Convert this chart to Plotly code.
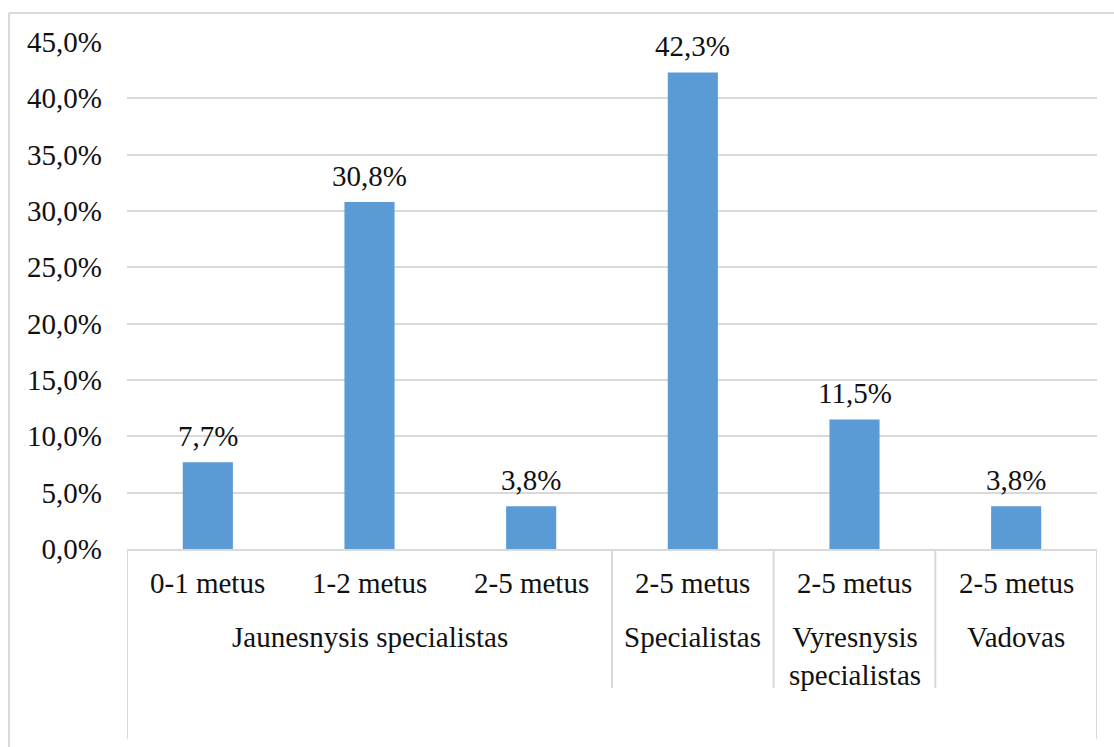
import plotly.graph_objects as go

# Survey shares by position and experience
experience = ["0-1 metus", "1-2 metus", "2-5 metus", "2-5 metus", "2-5 metus", "2-5 metus"]
positions = ["Jaunesnysis specialistas", "Specialistas", "Vyresnysis<br>specialistas", "Vadovas"]
position_sizes = [3, 1, 1, 1]
shares = [0.077, 0.308, 0.038, 0.423, 0.115, 0.038]

W, H = 1114, 747
M_L, M_R, M_T, M_B = 127, 17, 42, 198
PLOT_H = H - M_T - M_B
FONT = "'Times New Roman', 'Liberation Serif', Tinos, serif"
FS = 29
GRID = "#d9d9d9"
INK = "#111"


def py(pixel_y):
    """Convert a page pixel row into paper y coordinates."""
    return (H - M_B - pixel_y) / PLOT_H


def pct(v):
    return f"{v * 100:.1f}%".replace(".", ",")


x_pos = list(range(len(shares)))

fig = go.Figure(
    go.Bar(
        x=x_pos,
        y=shares,
        width=0.31,
        marker=dict(color="#5b9bd5", line=dict(width=0)),
        hovertemplate="%{y:.1%}<extra></extra>",
    )
)

shapes = []
annotations = []

# Value labels above each bar
for i, v in zip(x_pos, shares):
    annotations.append(dict(x=i, y=v, xref="x", yref="y", text=pct(v),
                            showarrow=False, yanchor="middle", yshift=26,
                            font=dict(family=FONT, size=FS, color=INK)))

# Outer chart frame
px_w = W - M_L - M_R
shapes.append(dict(type="line", xref="paper", yref="paper",
                   x0=(9 - M_L) / px_w, x1=(W + 20 - M_L) / px_w,
                   y0=py(13), y1=py(13), line=dict(color=GRID, width=2)))
shapes.append(dict(type="line", xref="paper", yref="paper",
                   x0=(9 - M_L) / px_w, x1=(9 - M_L) / px_w,
                   y0=py(13), y1=py(H + 20), line=dict(color=GRID, width=2)))

# Lower-level labels
for i, lab in enumerate(experience):
    annotations.append(dict(x=i, y=py(583), xref="x", yref="paper", text=lab,
                            showarrow=False, yanchor="middle",
                            font=dict(family=FONT, size=FS, color=INK)))

# Group labels and dividers
start = 0
bounds = [-0.5]
for name, size in zip(positions, position_sizes):
    center = start + (size - 1) / 2
    annotations.append(dict(x=center, y=py(619), xref="x", yref="paper", text=name,
                            showarrow=False, yanchor="top", align="center",
                            font=dict(family=FONT, size=FS, color=INK)))
    start += size
    bounds.append(start - 0.5)

for k, b in enumerate(bounds):
    outer = k == 0 or k == len(bounds) - 1
    shapes.append(dict(type="line", xref="x", yref="paper", x0=b, x1=b,
                       y0=py(549), y1=py(739 if outer else 688),
                       line=dict(color=GRID, width=2)))

fig.update_layout(
    width=W, height=H,
    margin=dict(l=M_L, r=M_R, t=M_T, b=M_B),
    paper_bgcolor="white", plot_bgcolor="white",
    font=dict(family=FONT),
    separators=", ",
    showlegend=False,
    shapes=shapes,
    annotations=annotations,
    xaxis=dict(range=[-0.5, 5.5], showticklabels=False, showgrid=False,
               zeroline=False, showline=True, linecolor=GRID, linewidth=2,
               fixedrange=True),
    yaxis=dict(range=[0, 0.45], dtick=0.05, tickformat=".1%",
               showgrid=True, gridcolor=GRID, gridwidth=2,
               zeroline=False, showline=False, ticks="", ticklabelstandoff=24,
               tickfont=dict(family=FONT, size=FS, color=INK)),
)

fig.write_html("out.html")
